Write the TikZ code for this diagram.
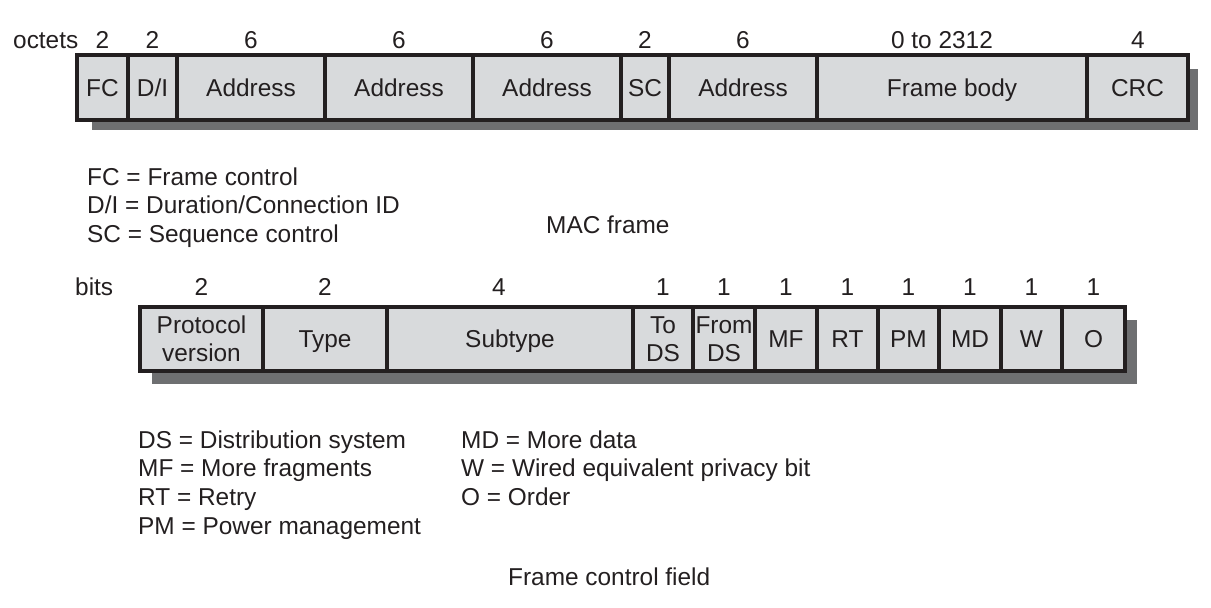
\documentclass[tikz,border=0pt]{standalone}
\usepackage{fontspec}
\setmainfont{Liberation Sans}
\definecolor{cellfill}{HTML}{D8DADC}
\definecolor{shade}{HTML}{6E6F71}
\definecolor{ink}{HTML}{231F20}
\begin{document}
\begin{tikzpicture}[x=1pt,y=-1pt,
  txt/.style={font=\fontsize{24.4}{28}\selectfont, text=ink, inner sep=0pt},
  lbl/.style={txt, anchor=base},
  leg/.style={txt, anchor=base west},
  cellbox/.style={txt, draw=ink, fill=cellfill, line width=4pt, anchor=center},
  onecell/.style={cellbox, text height=17pt, text depth=0pt},
  twocell/.style={cellbox, align=center},
  shadowbox/.style={fill=shade, draw=none}
]
\useasboundingbox (0,0) rectangle (1211,608);

% ---------------- MAC frame ----------------
\fill[shadowbox] (92,69) rectangle (1198,130);
\foreach \a/\b/\t/\n in {77/128/FC/fc, 128/177/D\slash I/di, 177/325/Address/ad1,
  325/473/Address/ad2, 473/621/Address/ad3, 621/669/SC/sc, 669/817/Address/ad4,
  817/1087/Frame body/fb, 1087/1188/CRC/crc}{
  \node[onecell, minimum width=\b-\a, minimum height=65] (\n) at ({(\a+\b)/2},87.5) {\t};
}
\node[leg] (octets) at (13,48.5) {octets};
\node[lbl] (o1) at (102.5,48.5) {2};
\node[lbl] (o2) at (152.5,48.5) {2};
\node[lbl] (o3) at (251,48.5) {6};
\node[lbl] (o4) at (399,48.5) {6};
\node[lbl] (o5) at (547,48.5) {6};
\node[lbl] (o6) at (645,48.5) {2};
\node[lbl] (o7) at (743,48.5) {6};
\node[lbl] (o8) at (942,48.5) {0 to 2312};
\node[lbl] (o9) at (1138,48.5) {4};

\node[leg] (l1) at (87,185) {FC = Frame control};
\node[leg] (l2) at (87,213.5) {D/I = Duration/Connection ID};
\node[leg] (l3) at (87,242) {SC = Sequence control};
\node[leg] (cap1) at (546,233) {MAC frame};

% ---------------- Frame control field ----------------
\fill[shadowbox] (152,320) rectangle (1137,384);
\foreach \a/\b/\t/\n in {263/387/Type/ty, 387/633/Subtype/st,
  755/817/MF/mf, 817/878/RT/rt, 878/939/PM/pm, 939/1001/MD/md,
  1001/1062/W/w, 1062/1125/O/o}{
  \node[onecell, minimum width=\b-\a, minimum height=64] (\n) at ({(\a+\b)/2},339) {\t};
}
\node[twocell, minimum width=123, minimum height=64] (pv) at (201.5,339) {Protocol\\version};
\node[twocell, minimum width=60, minimum height=64] (tods) at (663,339) {To\\DS};
\node[twocell, minimum width=62, minimum height=64] (fromds) at (724,339) {From\\DS};

\node[leg] (bits) at (75,295) {bits};
\foreach \x/\v/\n in {201.5/2/b1, 325/2/b2, 499/4/b3, 663/1/b4, 724/1/b5, 786/1/b6,
  847.5/1/b7, 908.5/1/b8, 970/1/b9, 1031.5/1/b10, 1093.5/1/b11}{
  \node[lbl] (\n) at (\x,295) {\v};
}

\node[leg] (d1) at (138,448) {DS = Distribution system};
\node[leg] (d2) at (138,476.7) {MF = More fragments};
\node[leg] (d3) at (138,505.4) {RT = Retry};
\node[leg] (d4) at (138,534) {PM = Power management};
\node[leg] (e1) at (461,448) {MD = More data};
\node[leg] (e2) at (461,476.7) {W = Wired equivalent privacy bit};
\node[leg] (e3) at (461,505.4) {O = Order};
\node[leg] (cap2) at (508,585) {Frame control field};
\end{tikzpicture}
\end{document}
